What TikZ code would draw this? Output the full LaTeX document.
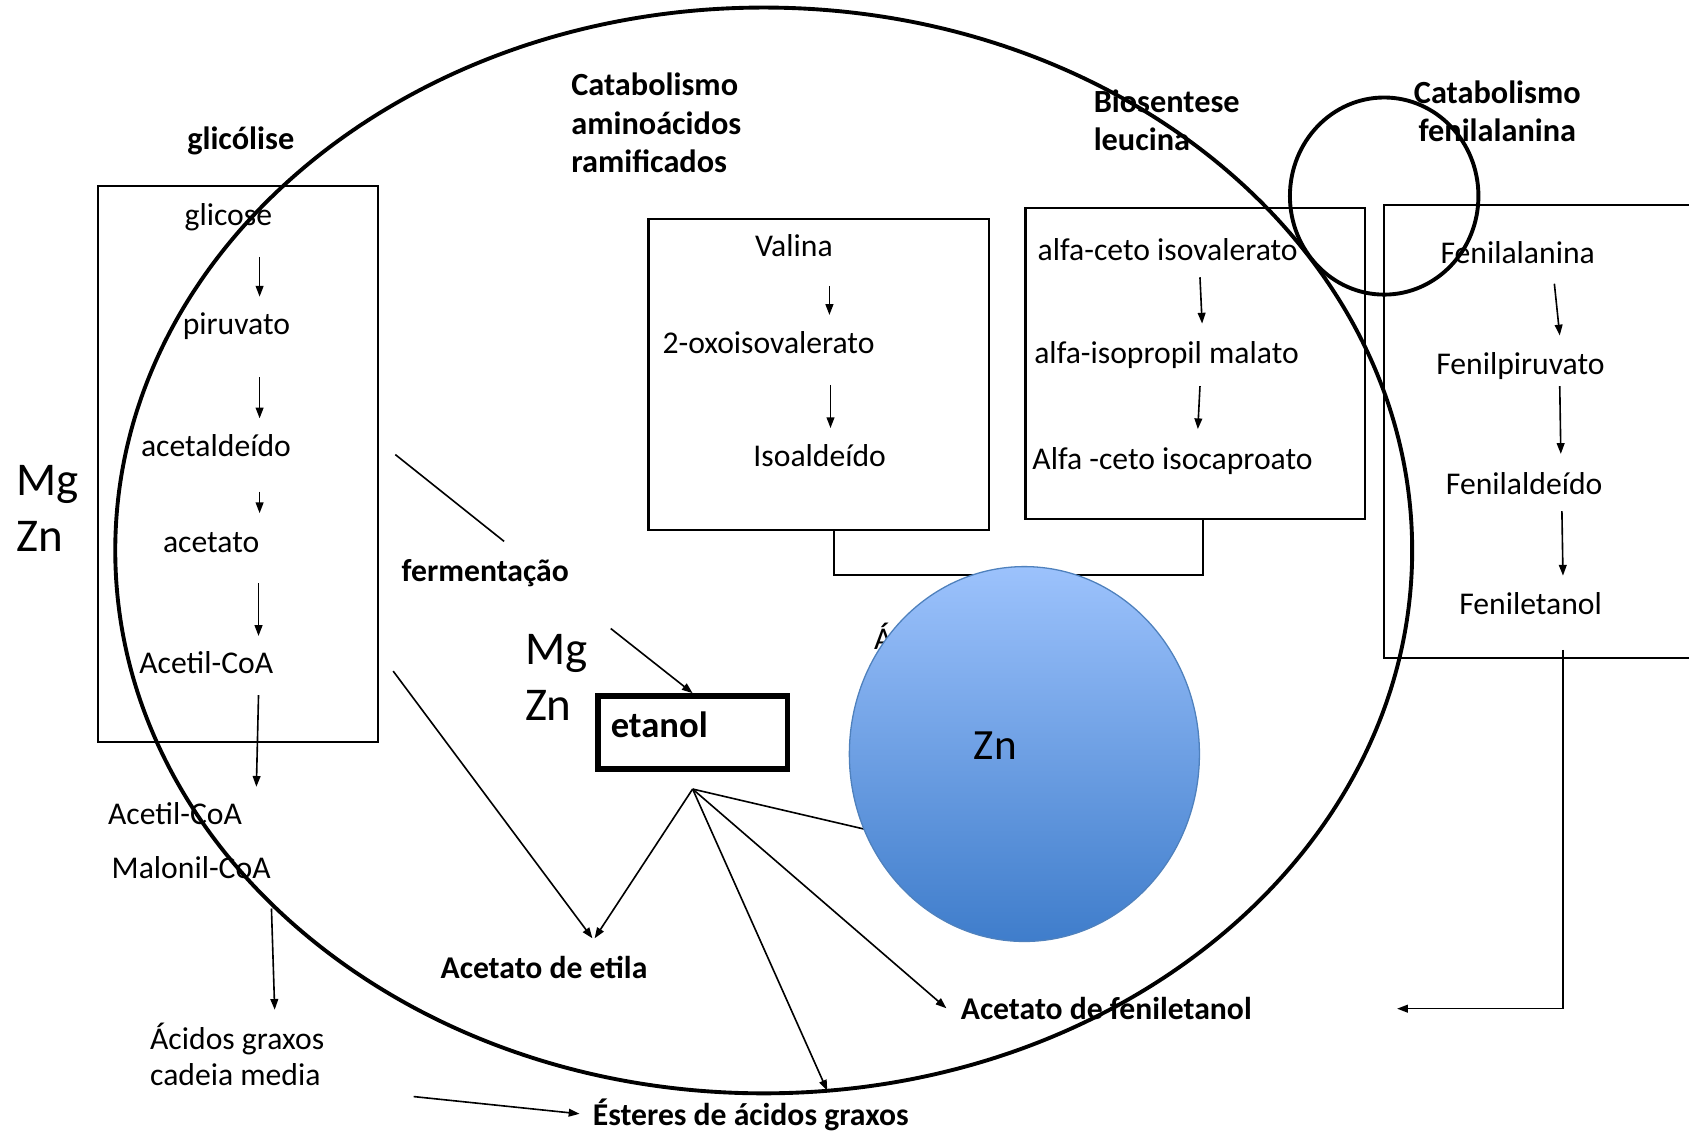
\documentclass[tikz,border=0pt]{standalone}
\usepackage{fontspec}
\setmainfont{Carlito}
\usetikzlibrary{arrows.meta}
\newcommand\txtsz{\fontsize{14.7}{17}\selectfont}
\newcommand\hdsz{\fontsize{15}{17.75}\selectfont\bfseries}
\newcommand\ionsz{\fontsize{21.8}{26}\selectfont}
\definecolor{znlight}{RGB}{156,194,252}
\definecolor{zndark}{RGB}{63,125,203}
\definecolor{znedge}{RGB}{79,129,189}
\begin{document}
\begin{tikzpicture}[x=0.5pt, y=-0.5pt,
    lbl/.style={inner sep=0pt, text height=12.5pt, text depth=2pt, font=\txtsz},
    bold/.style={lbl, font=\txtsz\bfseries},
    hd/.style={inner sep=0pt, font=\hdsz, align=left},
    ion/.style={inner sep=0pt, font=\ionsz, align=left},
    pathbox/.style={draw, line width=1pt, inner sep=0pt},
    flow/.style={-{Triangle[length=5pt,width=3.6pt]}, line width=0.75pt},
    wire/.style={line width=0.75pt}]
    \useasboundingbox (0,0) rectangle (1568,1051);

    % cell and vacuole
    \draw[line width=1.8pt] (709,511) ellipse [x radius=602, y radius=504];
    \draw[line width=1.8pt] (1285,182) ellipse [x radius=87.5, y radius=91.5];

    % headings
    \node[hd] (glicolise) at (223.5,131) {glicólise};
    \node[hd, anchor=west] (bcaa) at (530,114) {Catabolismo\\aminoácidos\\ramificados};
    \node[hd, anchor=west] (leuhd) at (1015,111.5) {Biosentese\\leucina};
    \node[hd, align=center] (phehd) at (1390,103) {Catabolismo\\fenilalanina};
    \node[ion, anchor=west] (mgzn) at (15,472) {Mg\\Zn};
    \node[ion, anchor=west] (mgzn2) at (487,629) {Mg\\Zn};

    % pathway boxes
    \node[pathbox, minimum width=130pt, minimum height=258pt] (glyc) at (221,431) {};
    \node[pathbox, minimum width=158pt, minimum height=144.5pt] (valbox) at (760,347.5) {};
    \node[pathbox, minimum width=157.5pt, minimum height=144.5pt] (leubox) at (1109.5,337.5) {};
    \node[pathbox, minimum width=147.5pt, minimum height=210.5pt] (phebox) at (1432.5,400.5) {};

    % glicolise
    \node[lbl] (glicose) at (212,199) {glicose};
    \node[lbl] (piruvato) at (219.5,300) {piruvato};
    \node[lbl] (acetaldeido) at (200.5,413) {acetaldeído};
    \node[lbl] (acetato) at (196,502) {acetato};
    \node[lbl] (acetilA) at (191.5,615) {Acetil-CoA};
    \node[lbl] (acetilB) at (162.5,755) {Acetil-CoA};
    \node[lbl] (malonil) at (177.5,805) {Malonil-CoA};
    \node[inner sep=0pt, font=\txtsz, align=left, anchor=west] (acidos) at (139,979) {Ácidos graxos\\cadeia media};
    \draw[flow] (glicose.south) ++(29,24.5) -- ++(0,37);
    \draw[flow] (piruvato.south) ++(21.5,35.5) -- ++(0,38);
    \draw[flow] (acetaldeido.south) ++(40.5,28.5) -- ++(0,20);
    \draw[flow] (acetato.south) ++(44,24.5) -- ++(0,49);
    \draw[flow] (acetilA.south) ++(48.5,15.5) -- ++(-2,85);
    \draw[flow] (malonil.south) ++(74.5,23.5) -- ++(3,94);

    % valina
    \node[lbl] (valina) at (737,228) {Valina};
    \node[lbl] (oxoiso) at (713.5,318) {2-oxoisovalerato};
    \node[lbl] (isoald) at (761,423) {Isoaldeído};
    \draw[flow] (valina.south) ++(33,22.5) -- ++(0,27);
    \draw[flow] (oxoiso.south) ++(57.5,24.5) -- ++(0,40);

    % leucina
    \node[lbl] (akiv) at (1084,231) {alfa-ceto isovalerato};
    \node[lbl] (aipm) at (1083,327) {alfa-isopropil malato};
    \node[lbl] (akic) at (1088.5,425) {Alfa -ceto isocaproato};
    \draw[flow] (akiv.south) ++(30,11.5) -- ++(2,43);
    \draw[flow] (aipm.south) ++(31,16.5) -- ++(-2,40);
    \draw[line width=1pt] ([xshift=7pt]valbox.south) |- ([xshift=3.75pt,yshift=-25.5pt]leubox.south) -- ([xshift=3.75pt]leubox.south);

    % fenilalanina
    \node[lbl] (phe) at (1409,234) {Fenilalanina};
    \node[lbl] (phepyr) at (1411.5,337) {Fenilpiruvato};
    \node[lbl] (pheald) at (1415,449) {Fenilaldeído};
    \node[lbl] (pheeth) at (1421,560) {Feniletanol};
    \draw[flow] (phe.south) ++(34,14.5) -- ++(5,48);
    \draw[flow] (phepyr.south) ++(36.5,6.5) -- ++(1,63);
    \draw[flow] (pheald.south) ++(35,10.5) -- ++(1,60);

    % products
    \node[bold] (ferm) at (450.5,529) {fermentação};
    \node[draw, line width=2.5pt, minimum width=88pt, minimum height=34pt, inner xsep=6pt,
          text width=76pt, align=left, text height=12pt, text depth=7pt,
          font=\fontsize{17}{20}\selectfont\bfseries] (etanol) at (643,680) {etanol};
    \node[bold] (etila) at (505,898) {Acetato de etila};
    \node[bold] (acfen) at (1027,936) {Acetato de feniletanol};
    \node[bold] (esteres) at (697,1034) {Ésteres de ácidos graxos};
    \node[lbl] (hidA) at (820,592) {Á};
    \coordinate (fan) at ([yshift=-8pt]etanol.south);

    \draw[wire] (glyc.east) ++(15,-9) -- ([xshift=8.75pt,yshift=5.75pt]ferm.north);
    \draw[flow] (glyc.east) ++(13,192) -- ([xshift=22.5pt,yshift=6pt]etila.north);
    \draw[flow] (etanol.north) ++(-76,-60) -- (etanol.north);
    \draw[flow] (fan) -- ([xshift=23.5pt,yshift=6pt]etila.north);
    \draw[wire] (fan) -- ++(240,56);
    \draw[flow] (fan) -- ([xshift=35.5pt,yshift=3.25pt]esteres.north);
    \draw[flow] (fan) -- ([xshift=-6.5pt]acfen.west);
    \draw[flow] (pheeth.south) ++(30,28.5) |- ++(-154,333);
    \draw[flow] (esteres.west) ++(-166,-16) -- ([xshift=-6pt]esteres.west);

    % Zn
    \shade[top color=znlight, bottom color=zndark, draw=znedge, line width=0.6pt]
        (951,700) ellipse [x radius=162.5, y radius=174];
    \node[ion, font=\fontsize{20}{24}\selectfont] (zn) at (924,692) {Zn};
\end{tikzpicture}
\end{document}
